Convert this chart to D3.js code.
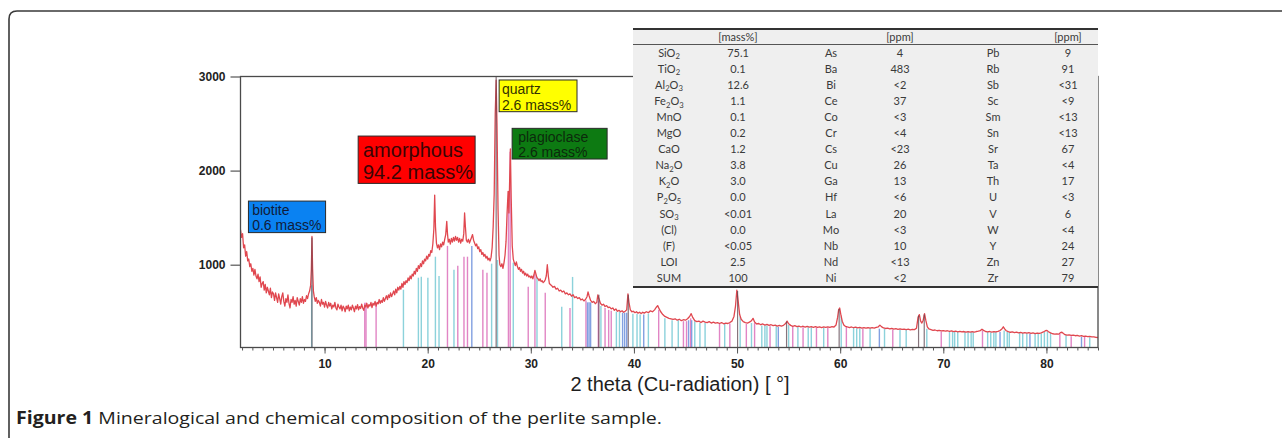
<!DOCTYPE html>
<html><head><meta charset="utf-8">
<script src="https://cdn.jsdelivr.net/npm/d3@7"></script>
<style>body{margin:0;background:#fff}svg{display:block}</style>
</head><body><svg id="c" width="1282" height="438"></svg>
<script>
// ---------------- DATA ----------------
const xTicks = [10, 20, 30, 40, 50, 60, 70, 80];
const yTicks = [1000, 2000, 3000];
const xTitle = "2 theta (Cu-radiation) [ \u00b0]";
const captionBold = "Figure 1";
const captionText = " Mineralogical and chemical composition of the perlite sample.";

// XRD pattern [2theta, counts]
const pattern = [
[1.85,1370],[1.95,1290],[2.05,1330],[2.15,1180],[2.25,1210],[2.35,1090],[2.45,1140],[2.55,1040],[2.65,1060],[2.75,980],
[2.85,1010],[2.95,930],[3.05,960],[3.15,890],[3.25,950],[3.35,880],[3.45,850],[3.55,900],[3.65,820],[3.75,870],
[3.85,760],[3.95,800],[4.05,820],[4.15,730],[4.25,790],[4.35,700],[4.45,760],[4.55,720],[4.65,680],[4.75,750],
[4.85,650],[4.95,710],[5.05,690],[5.15,620],[5.25,700],[5.35,650],[5.45,600],[5.55,690],[5.65,640],[5.75,580],
[5.85,660],[5.95,700],[6.05,610],[6.15,560],[6.25,640],[6.35,600],[6.45,680],[6.55,590],[6.65,540],[6.75,630],
[6.85,600],[6.95,660],[7.05,580],[7.15,620],[7.25,560],[7.35,650],[7.45,610],[7.55,570],[7.65,640],[7.75,600],
[7.85,660],[7.95,590],[8.05,630],[8.15,610],[8.25,670],[8.35,640],[8.45,690],[8.55,720],[8.65,780],[8.72,950],
[8.78,1300],[8.84,960],[8.92,720],[9.0,660],[9.1,610],[9.2,650],[9.3,590],[9.4,620],[9.5,600],[9.6,560],
[9.7,630],[9.8,580],[9.9,600],[10.0,550],[10.1,610],[10.2,570],[10.3,540],[10.4,600],[10.5,560],[10.6,590],
[10.7,530],[10.8,570],[10.9,550],[11.0,600],[11.1,540],[11.2,520],[11.3,580],[11.4,550],[11.5,530],[11.6,570],
[11.7,510],[11.8,560],[11.9,540],[12.0,500],[12.1,560],[12.2,530],[12.3,570],[12.4,510],[12.5,550],[12.6,520],
[12.7,570],[12.8,540],[12.9,500],[13.0,560],[13.1,530],[13.2,575],[13.3,520],[13.4,555],[13.5,535],[13.6,580],
[13.7,540],[13.8,515],[13.9,570],[14.0,550],[14.1,590],[14.2,540],[14.3,575],[14.4,560],[14.5,600],[14.6,545],
[14.7,590],[14.8,570],[14.9,610],[15.0,560],[15.1,600],[15.2,585],[15.3,630],[15.4,590],[15.5,620],[15.6,600],
[15.7,650],[15.8,610],[15.9,640],[16.0,670],[16.1,630],[16.2,680],[16.3,650],[16.4,700],[16.5,660],[16.6,690],
[16.7,720],[16.8,680],[16.9,740],[17.0,700],[17.1,760],[17.2,730],[17.3,770],[17.4,740],[17.5,800],[17.6,760],
[17.7,820],[17.8,790],[17.9,830],[18.0,810],[18.1,860],[18.2,830],[18.3,880],[18.4,850],[18.5,900],[18.6,880],
[18.7,930],[18.8,900],[18.9,960],[19.0,930],[19.1,990],[19.2,960],[19.3,1010],[19.4,980],[19.5,1040],[19.6,1010],
[19.7,1060],[19.8,1040],[19.9,1090],[20.0,1060],[20.1,1110],[20.2,1090],[20.3,1150],[20.4,1130],[20.5,1220],[20.6,1380],
[20.68,1740],[20.76,1400],[20.85,1230],[20.95,1180],[21.05,1210],[21.15,1160],[21.25,1220],[21.35,1190],[21.45,1240],[21.55,1210],
[21.65,1270],[21.75,1320],[21.85,1460],[21.92,1330],[22.0,1240],[22.1,1270],[22.2,1220],[22.3,1280],[22.4,1240],[22.5,1290],
[22.6,1250],[22.7,1300],[22.8,1260],[22.9,1290],[23.0,1240],[23.1,1280],[23.2,1230],[23.3,1270],[23.4,1250],[23.5,1330],
[23.58,1550],[23.66,1400],[23.75,1260],[23.85,1240],[23.95,1270],[24.05,1230],[24.15,1260],[24.25,1290],[24.35,1320],[24.45,1260],
[24.55,1230],[24.65,1200],[24.75,1220],[24.85,1170],[24.95,1190],[25.05,1140],[25.15,1160],[25.25,1110],[25.35,1130],[25.45,1090],
[25.55,1110],[25.65,1070],[25.75,1090],[25.85,1050],[25.95,1070],[26.05,1040],[26.15,1080],[26.25,1180],[26.35,1400],[26.45,1750],
[26.55,2600],[26.64,2960],[26.72,2500],[26.82,1600],[26.92,1100],[27.0,1000],[27.1,980],[27.2,1010],[27.3,960],[27.4,1020],
[27.5,1100],[27.6,1250],[27.7,1550],[27.8,1780],[27.88,1550],[27.95,1900],[28.02,2230],[28.1,1700],[28.2,1200],[28.3,1060],
[28.4,1020],[28.5,990],[28.6,1030],[28.7,980],[28.8,950],[28.9,970],[29.0,930],[29.1,950],[29.2,910],[29.3,930],
[29.4,890],[29.5,910],[29.6,880],[29.7,900],[29.8,870],[29.9,880],[30.0,860],[30.1,880],[30.2,850],[30.3,890],
[30.4,940],[30.5,900],[30.6,860],[30.7,850],[30.8,830],[30.9,850],[31.0,820],[31.1,830],[31.2,810],[31.3,820],
[31.4,840],[31.5,880],[31.6,1000],[31.7,880],[31.8,800],[31.9,790],[32.0,780],[32.15,760],[32.3,770],[32.45,740],
[32.6,750],[32.75,720],[32.9,730],[33.05,710],[33.2,720],[33.35,690],[33.5,700],[33.65,680],[33.8,690],[33.95,665],
[34.1,680],[34.25,650],[34.4,660],[34.55,640],[34.7,650],[34.85,625],[35.0,635],[35.15,615],[35.3,630],[35.45,660],
[35.55,710],[35.65,670],[35.8,620],[35.95,600],[36.1,610],[36.25,585],[36.4,600],[36.5,680],[36.6,640],[36.75,590],
[36.9,570],[37.05,580],[37.2,555],[37.35,565],[37.5,545],[37.65,550],[37.8,530],[37.95,540],[38.1,515],[38.25,530],
[38.4,505],[38.55,515],[38.7,500],[38.85,510],[39.0,495],[39.15,505],[39.3,520],[39.42,690],[39.52,600],[39.65,520],
[39.8,500],[39.95,505],[40.1,490],[40.25,500],[40.4,485],[40.55,495],[40.7,480],[40.85,495],[41.0,485],[41.2,500],
[41.4,490],[41.6,510],[41.8,500],[42.0,520],[42.15,545],[42.3,565],[42.45,530],[42.6,500],[42.8,470],[43.0,450],
[43.2,440],[43.4,430],[43.6,425],[43.8,420],[44.0,425],[44.2,410],[44.4,420],[44.6,405],[44.8,415],[45.0,410],
[45.2,425],[45.4,450],[45.55,480],[45.7,440],[45.9,405],[46.1,395],[46.3,400],[46.5,385],[46.7,400],[46.9,390],
[47.1,385],[47.3,395],[47.5,380],[47.7,390],[47.9,380],[48.1,385],[48.3,375],[48.5,385],[48.7,372],[48.9,380],
[49.1,375],[49.3,385],[49.5,400],[49.7,450],[49.85,560],[49.98,730],[50.1,620],[50.25,470],[50.4,420],[50.6,395],
[50.8,385],[51.0,380],[51.2,390],[51.4,405],[51.55,430],[51.7,390],[51.9,370],[52.1,375],[52.3,362],[52.5,370],
[52.7,358],[52.9,365],[53.1,355],[53.3,362],[53.5,352],[53.7,358],[53.9,348],[54.1,355],[54.3,348],[54.5,355],
[54.7,375],[54.85,400],[55.0,372],[55.2,355],[55.4,345],[55.6,352],[55.8,342],[56.0,348],[56.2,338],[56.4,346],
[56.6,337],[56.8,344],[57.0,336],[57.2,342],[57.4,335],[57.6,341],[57.8,333],[58.0,339],[58.2,332],[58.4,338],
[58.6,333],[58.8,340],[59.0,334],[59.2,342],[59.4,338],[59.6,360],[59.75,440],[59.85,520],[59.95,540],[60.08,460],
[60.2,400],[60.35,360],[60.5,345],[60.7,338],[60.9,332],[61.1,338],[61.3,330],[61.5,336],[61.7,328],[61.9,334],
[62.1,326],[62.3,332],[62.5,326],[62.7,330],[62.9,325],[63.1,331],[63.3,326],[63.5,334],[63.7,340],[63.85,358],
[64.0,342],[64.2,328],[64.4,322],[64.6,326],[64.8,318],[65.0,322],[65.2,315],[65.4,320],[65.6,313],[65.8,318],
[66.0,312],[66.2,316],[66.4,310],[66.6,315],[66.8,308],[67.0,313],[67.2,310],[67.4,325],[67.55,440],[67.68,470],
[67.8,400],[67.92,380],[68.05,410],[68.18,480],[68.3,410],[68.45,340],[68.6,318],[68.8,310],[69.0,302],[69.2,306],
[69.4,298],[69.6,303],[69.8,296],[70.0,300],[70.2,294],[70.4,298],[70.6,291],[70.8,296],[71.0,289],[71.2,293],
[71.4,287],[71.6,292],[71.8,285],[72.0,290],[72.2,284],[72.4,289],[72.6,283],[72.8,288],[73.0,284],[73.2,290],
[73.4,293],[73.6,300],[73.75,315],[73.9,302],[74.1,290],[74.3,286],[74.5,290],[74.7,283],[74.9,289],[75.1,286],
[75.3,292],[75.5,300],[75.7,320],[75.82,340],[75.95,318],[76.1,298],[76.3,288],[76.5,282],[76.7,286],[76.9,278],
[77.1,283],[77.3,276],[77.5,281],[77.7,274],[77.9,279],[78.1,272],[78.3,277],[78.5,270],[78.7,275],[78.9,268],
[79.1,274],[79.3,269],[79.5,276],[79.7,285],[79.9,298],[80.05,302],[80.2,288],[80.4,275],[80.6,266],[80.8,262],
[81.0,265],[81.2,262],[81.35,278],[81.5,282],[81.65,268],[81.8,256],[82.0,252],[82.2,255],[82.4,248],[82.6,251],
[82.8,245],[83.0,248],[83.2,242],[83.4,246],[83.6,239],[83.8,242],[84.0,236],[84.2,238],[84.4,232],[84.6,234],
[84.8,228],[85.0,226]
];

// Reference stick patterns [2theta, top counts]
const cyanSticks = [
[8.75,780],[17.65,734],[19.1,862],[19.38,872],[20.02,862],[20.75,1085],[21.1,880],[22.55,947],[26.2,1011],[26.77,1050],
[28.3,1021],[30.6,870],[33.0,553],[34.05,870],[36.8,560],[38.3,500],[38.6,500],[39.9,480],[40.3,480],[40.6,470],
[41.4,480],[43.0,430],[43.7,410],[44.3,410],[45.9,400],[46.4,380],[46.9,380],[48.8,370],[50.3,450],[51.4,380],
[52.4,355],[52.7,355],[52.9,355],[53.8,345],[55.0,360],[55.9,340],[56.9,335],[57.2,335],[58.4,330],[60.1,450],
[61.3,330],[61.6,325],[61.9,325],[62.9,325],[64.3,320],[65.8,310],[66.4,308],[68.4,320],[70.6,290],[70.9,290],
[71.1,288],[71.4,286],[72.1,285],[72.4,284],[72.7,284],[72.9,284],[74.3,284],[74.6,282],[74.9,282],[75.1,285],
[75.9,300],[76.2,285],[76.4,282],[77.4,275],[77.7,273],[78.1,272],[78.9,268],[79.2,268],[79.5,270],[79.8,285],
[80.1,290],[80.4,275],[81.9,252],[84.2,230]
];
const pinkSticks = [
[13.9,595],[14.02,595],[15.0,595],[21.92,1200],[22.92,989],[23.52,1085],[23.86,1085],[25.35,947],[25.75,915],[27.83,1700],
[28.0,2200],[29.75,766],[30.4,900],[31.4,702],[33.8,540],[35.35,620],[36.55,620],[37.2,540],[37.55,520],[37.8,510],
[42.4,520],[44.8,400],[45.1,400],[45.5,430],[48.3,370],[49.3,375],[50.9,370],[51.7,380],[53.2,345],[55.4,340],
[56.4,335],[57.7,330],[58.8,330],[60.6,340],[62.2,320],[65.1,310],[69.8,290],[73.8,300],[81.3,270],[82.4,240],[83.7,232]
];
const blueSticks = [
[24.28,1200],[35.5,600],[35.65,600],[35.8,600],[38.9,490],[39.1,490],[39.3,490],[40.95,470],[45.3,410],[45.6,410],
[54.0,340],[63.8,320],[75.5,285],[78.4,265],[83.4,235]
];
const darkSticks = [
[8.78,1290],[26.64,3000],[36.6,680],[39.45,680],[50.05,720],[54.8,395],[59.9,530],[67.6,460],[68.15,470]
];

// Phase annotations
const phaseNames = ["biotite", "amorphous", "quartz", "plagioclase"];
const phaseAmounts = ["0.6 mass%", "94.2 mass%", "2.6 mass%", "2.6 mass%"];
const phaseColors = ["#0a82f2", "#ff0000", "#ffff00", "#0d7a12"];

// Chemical composition table
const tableHeaders = ["[mass%]", "[ppm]", "[ppm]"];
const oxides = ["SiO2","TiO2","Al2O3","Fe2O3","MnO","MgO","CaO","Na2O","K2O","P2O5","SO3","(Cl)","(F)","LOI","SUM"];
const oxideValues = ["75.1","0.1","12.6","1.1","0.1","0.2","1.2","3.8","3.0","0.0","<0.01","0.0","<0.05","2.5","100"];
const elements1 = ["As","Ba","Bi","Ce","Co","Cr","Cs","Cu","Ga","Hf","La","Mo","Nb","Nd","Ni"];
const values1 = ["4","483","<2","37","<3","<4","<23","26","13","<6","20","<3","10","<13","<2"];
const elements2 = ["Pb","Rb","Sb","Sc","Sm","Sn","Sr","Ta","Th","U","V","W","Y","Zn","Zr"];
const values2 = ["9","91","<31","<9","<13","<13","67","<4","17","<3","6","<4","24","27","79"];

// ---------------- DRAW ----------------
const svg = d3.select("#c");
const x = d3.scaleLinear().domain([1.85, 85]).range([240.5, 1098]);
const y = d3.scaleLinear().domain([120, 3000]).range([347.5, 76.5]);
const base = y.domain()[0];

// outer figure frame
svg.append("path").attr("d", "M9,438 L9,19 Q9,11 17,11 L1282,11")
  .attr("fill", "none").attr("stroke", "#3a3a3a").attr("stroke-width", 1.6);

svg.append("defs").append("clipPath").attr("id", "plotclip")
  .append("rect").attr("x", x.range()[0]).attr("y", y.range()[1])
  .attr("width", x.range()[1] - x.range()[0]).attr("height", y.range()[0] - y.range()[1]);

const plot = svg.append("g").attr("clip-path", "url(#plotclip)");

function sticks(data, color, width, op) {
  plot.append("g").selectAll("line").data(data).join("line")
    .attr("x1", d => x(d[0])).attr("x2", d => x(d[0]))
    .attr("y1", y(base)).attr("y2", d => y(d[1]))
    .attr("stroke", color).attr("stroke-width", width).attr("opacity", op);
}
sticks(cyanSticks, "#86d0da", 1.4, 0.95);
sticks(pinkSticks, "#e07fc2", 1.4, 0.95);
sticks(blueSticks, "#7c9be0", 1.4, 0.95);

plot.append("path").datum(pattern)
  .attr("d", d3.line().x(d => x(d[0])).y(d => y(d[1])))
  .attr("fill", "none").attr("stroke", "#e0474f").attr("stroke-width", 1.3)
  .attr("stroke-linejoin", "round");

sticks(darkSticks, "#5e4650", 1.2, 0.75);

// plot frame
svg.append("rect").attr("x", x.range()[0]).attr("y", y.range()[1])
  .attr("width", x.range()[1] - x.range()[0]).attr("height", y.range()[0] - y.range()[1])
  .attr("fill", "none").attr("stroke", "#4a4a4a").attr("stroke-width", 1.3);

// axes
const xMinor = svg.append("g").attr("transform", `translate(0,${y.range()[0]})`)
  .call(d3.axisBottom(x).tickValues(d3.range(2, 86)).tickSize(3).tickFormat(""));
const xMajor = svg.append("g").attr("transform", `translate(0,${y.range()[0]})`)
  .call(d3.axisBottom(x).tickValues(xTicks).tickSize(6).tickPadding(6).tickFormat(d3.format("d")));
[xMinor, xMajor].forEach(g => { g.select(".domain").remove(); g.selectAll("line").attr("stroke", "#555").attr("stroke-width", 1); });
xMajor.selectAll("text").attr("font-family", "Liberation Sans, Arial, sans-serif")
  .attr("font-weight", "bold").attr("font-size", 12).attr("fill", "#222");

const yAx = svg.append("g").attr("transform", `translate(${x.range()[0]},0)`)
  .call(d3.axisLeft(y).tickValues(yTicks).tickSize(10).tickPadding(5).tickFormat(d3.format("d")));
yAx.select(".domain").remove();
yAx.selectAll("line").attr("stroke", "#555").attr("stroke-width", 1.2);
yAx.selectAll("text").attr("font-family", "Liberation Sans, Arial, sans-serif")
  .attr("font-weight", "bold").attr("font-size", 12).attr("fill", "#222");

// x title
svg.append("text").attr("x", 680).attr("y", 391).attr("text-anchor", "middle")
  .attr("font-family", "Liberation Sans, Arial, sans-serif").attr("font-size", 20).attr("fill", "#1e1e1e")
  .text(xTitle);

// phase annotation boxes (placed in data space)
const boxes = [
  {x0: 2.62, x1: 10.1, y0: 1676, y1: 1341, fs: 14, tx: 2.98, b1: 214.5, b2: 230, tc: "#101c3a"},
  {x0: 13.26, x1: 24.6, y0: 2367, y1: 1864, fs: 20, tx: 13.73, b1: 156.5, b2: 178.5, tc: "#3a0505"},
  {x0: 26.93, x1: 34.48, y0: 2963, y1: 2626, fs: 14, tx: 27.2, b1: 93.5, b2: 109.5, tc: "#333300"},
  {x0: 28.19, x1: 37.4, y0: 2449, y1: 2123, fs: 14, tx: 28.78, b1: 141.5, b2: 156.5, tc: "#0c2a0c"}
];
boxes.forEach((b, i) => {
  svg.append("rect").attr("x", x(b.x0)).attr("y", y(b.y0))
    .attr("width", x(b.x1) - x(b.x0)).attr("height", y(b.y1) - y(b.y0))
    .attr("fill", phaseColors[i]).attr("stroke", "#2a2a2a").attr("stroke-width", 1);
  const t = svg.append("text").attr("font-family", "Liberation Sans, Arial, sans-serif")
    .attr("font-size", b.fs).attr("fill", b.tc);
  t.append("tspan").attr("x", x(b.tx)).attr("y", b.b1).text(phaseNames[i]);
  t.append("tspan").attr("x", x(b.tx)).attr("y", b.b2).text(phaseAmounts[i]);
});

// table
const tb = {l: 633, r: 1098, t: 29, h: 44.5, b: 287};
const tg = svg.append("g");
tg.append("rect").attr("x", tb.l).attr("y", tb.t).attr("width", tb.r - tb.l).attr("height", tb.b - tb.t)
  .attr("fill", "#efefef");
tg.append("line").attr("x1", tb.l).attr("x2", tb.r).attr("y1", tb.t).attr("y2", tb.t).attr("stroke", "#333").attr("stroke-width", 2);
tg.append("line").attr("x1", tb.l).attr("x2", tb.r).attr("y1", tb.h).attr("y2", tb.h).attr("stroke", "#555").attr("stroke-width", 1.2);
tg.append("line").attr("x1", tb.l).attr("x2", tb.r).attr("y1", tb.b).attr("y2", tb.b).attr("stroke", "#333").attr("stroke-width", 2);
const colX = [669, 738, 831, 900, 993, 1068];
const rowY = d3.scaleLinear().domain([0, 14]).range([53, 278]);
const tfont = "Lato, 'Open Sans', sans-serif";
const tfs = 11;
[1, 3, 5].forEach((c, i) => {
  tg.append("text").attr("x", colX[c]).attr("y", 36.8).attr("dy", "0.35em").attr("text-anchor", "middle")
    .attr("font-family", tfont).attr("font-size", tfs).attr("fill", "#3a3a3a").text(tableHeaders[i]);
});
function chemLabel(sel, s) {
  const parts = s.split(/(\d+)/).filter(p => p.length);
  let prevSub = false;
  parts.forEach(p => {
    if (/^\d+$/.test(p)) { sel.append("tspan").attr("font-size", tfs * 0.7).attr("dy", 2.5).text(p); prevSub = true; }
    else { sel.append("tspan").attr("dy", prevSub ? -2.5 : 0).text(p); prevSub = false; }
  });
}
const cols = [oxides, oxideValues, elements1, values1, elements2, values2];
cols.forEach((col, c) => {
  col.forEach((s, r) => {
    const t = tg.append("text").attr("x", colX[c]).attr("y", rowY(r) + 3.8).attr("text-anchor", "middle")
      .attr("font-family", tfont).attr("font-size", tfs).attr("fill", "#3a3a3a");
    if (c === 0) chemLabel(t, s); else t.text(s);
  });
});

// caption
const cap = svg.append("text").attr("x", 16).attr("y", 424)
  .attr("font-family", "'Open Sans', 'Noto Sans', sans-serif").attr("font-size", 17).attr("fill", "#231f20")
  .attr("textLength", 646).attr("lengthAdjust", "spacingAndGlyphs");
cap.append("tspan").attr("font-weight", "bold").text(captionBold);
cap.append("tspan").text(captionText);
</script>
</body></html>
